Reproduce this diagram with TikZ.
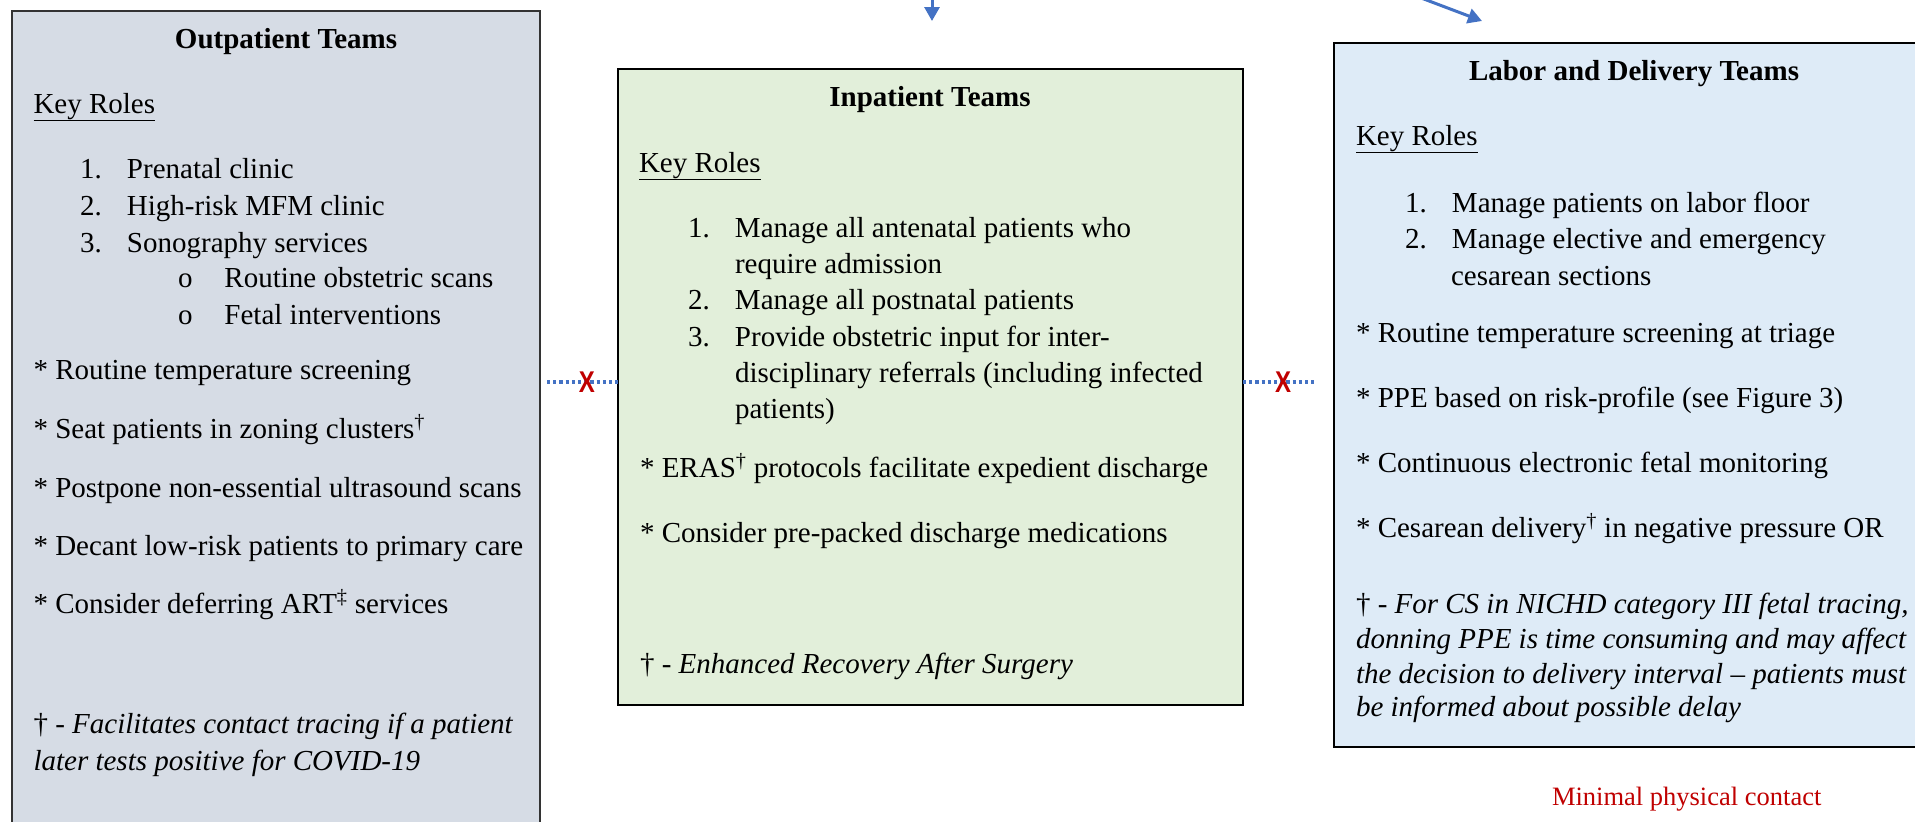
\documentclass[tikz,border=0pt]{standalone}
\usepackage{fontspec}
\usepackage{graphicx}
\setmainfont{Liberation Serif}
\newfontfamily\markfont{Liberation Sans}
\usetikzlibrary{arrows.meta}

\definecolor{outfill}{HTML}{D6DCE5}
\definecolor{infill}{HTML}{E2EFDA}
\definecolor{ldfill}{HTML}{DEEBF7}
\definecolor{linkblue}{HTML}{4472C4}
\definecolor{stopred}{HTML}{C00000}

% one line of body text, placed by its baseline
\newcommand\tline[4]{\node[txt] (#1) at (#2,#3) {#4};}
% list labels of fixed width
\newcommand\itemlab[1]{\hbox to 47pt{#1\hss}}
\newcommand\sublab{\hbox to 46.5pt{o\hss}}
\newcommand\dg{\textsuperscript{\dag}}
\newcommand\stopmark{\scalebox{0.8}[1]{X}}

\begin{document}
\begin{tikzpicture}[x=1pt,y=-1pt,
  every node/.style={inner sep=0pt, outer sep=0pt},
  txt/.style={anchor=base west, font=\fontsize{29}{34}\selectfont},
  ttl/.style={anchor=base, font=\fontsize{29}{34}\selectfont\bfseries},
  panel/.style={anchor=north west, rectangle},
  xmark/.style={text=stopred, font=\markfont\bfseries\fontsize{30}{30}\selectfont},
  link/.style={draw=linkblue, line width=3.2pt, dash pattern=on 3.2pt off 3pt},
  flow/.style={draw=linkblue, line width=3pt, -{Triangle[length=14pt,width=15pt]}}
]
\useasboundingbox (0,0) rectangle (1915,822);
\clip (0,0) rectangle (1915,822);
\fill[white] (0,0) rectangle (1915,822);

% incoming flow arrows from above
\coordinate (inA0) at (932,-10);
\coordinate (inA1) at (932,21);
\coordinate (ldA0) at (1400,-10);
\coordinate (ldA1) at (1482,21);
\draw[flow] (inA0) -- (inA1);
\draw[flow] (ldA0) -- (ldA1);

% team panels
\node[panel, draw=black!80, line width=1.8pt, fill=outfill,
      minimum width=528pt, minimum height=860pt] (outb) at (12,11) {};
\node[panel, draw=black, line width=2.6pt, fill=infill,
      minimum width=625pt, minimum height=636pt] (inb) at (618,69) {};
\node[panel, draw=black, line width=2.6pt, fill=ldfill,
      minimum width=700pt, minimum height=704pt] (ldb) at (1334,43) {};

% Outpatient teams
\node[ttl] (outt) at (286,48) {Outpatient Teams};
\tline{o1}{33.5}{113}{\underline{Key Roles}}
\tline{o2}{80}{178}{\itemlab{1.}Prenatal clinic}
\tline{o3}{80}{215}{\itemlab{2.}High-risk MFM clinic}
\tline{o4}{80}{252}{\itemlab{3.}Sonography services}
\tline{o5}{178}{287}{\sublab Routine obstetric scans}
\tline{o6}{178}{324}{\sublab Fetal interventions}
\tline{o7}{33.5}{379}{* Routine temperature screening}
\tline{o8}{33.5}{438}{* Seat patients in zoning clusters\dg}
\tline{o9}{33.5}{497}{* Postpone non-essential ultrasound scans}
\tline{o10}{33.5}{555}{* Decant low-risk patients to primary care}
\tline{o11}{33.5}{613}{* Consider deferring ART\textsuperscript{\ddag} services}
\tline{o12}{33.5}{733}{\dag\ - \textit{Facilitates contact tracing if a patient}}
\tline{o13}{33.5}{770}{\textit{later tests positive for COVID-19}}

% Inpatient teams
\node[ttl] (int) at (930,106) {Inpatient Teams};
\tline{i1}{639}{172}{\underline{Key Roles}}
\tline{i2}{688}{237}{\itemlab{1.}Manage all antenatal patients who}
\tline{i3}{735}{273}{require admission}
\tline{i4}{688}{309}{\itemlab{2.}Manage all postnatal patients}
\tline{i5}{688}{346}{\itemlab{3.}Provide obstetric input for inter-}
\tline{i6}{735}{382}{disciplinary referrals (including infected}
\tline{i7}{735}{418}{patients)}
\tline{i8}{640}{477}{* ERAS\dg\ protocols facilitate expedient discharge}
\tline{i9}{640}{542}{* Consider pre-packed discharge medications}
\tline{i10}{640}{673}{\dag\ - \textit{Enhanced Recovery After Surgery}}

% Labor and delivery teams
\node[ttl] (ldt) at (1634,80) {Labor and Delivery Teams};
\tline{l1}{1356}{145}{\underline{Key Roles}}
\tline{l2}{1405}{212}{\itemlab{1.}Manage patients on labor floor}
\tline{l3}{1405}{248}{\itemlab{2.}Manage elective and emergency}
\tline{l4}{1451}{285}{cesarean sections}
\tline{l5}{1356}{342}{* Routine temperature screening at triage}
\tline{l6}{1356}{407}{* PPE based on risk-profile (see Figure 3)}
\tline{l7}{1356}{472}{* Continuous electronic fetal monitoring}
\tline{l8}{1356}{537}{* Cesarean delivery\dg\ in negative pressure OR}
\tline{l9}{1356}{613}{\dag\ - \textit{For CS in NICHD category III fetal tracing,}}
\tline{l10}{1356}{648}{\textit{donning PPE is time consuming and may affect}}
\tline{l11}{1356}{683}{\textit{the decision to delivery interval -- patients must}}
\tline{l12}{1356}{716}{\textit{be informed about possible delay}}

% blocked links between the teams, each crossed by a red mark
\coordinate (lkl) at (587,382);
\coordinate (lkr) at (1283,382);
\draw[link, shorten <=7pt] (outb.east |- lkl) -- (inb.west |- lkl)
  node[xmark, pos=0.6] (xl) {\stopmark};
\draw[link, shorten >=18pt] (inb.east |- lkr) -- (ldb.west |- lkr)
  node[xmark, pos=0.44] (xr) {\stopmark};

% note below the labor and delivery panel
\node[anchor=base west, text=stopred, font=\fontsize{26.5}{30}\selectfont] (note) at (1552,805) {Minimal physical contact};
\end{tikzpicture}
\end{document}
